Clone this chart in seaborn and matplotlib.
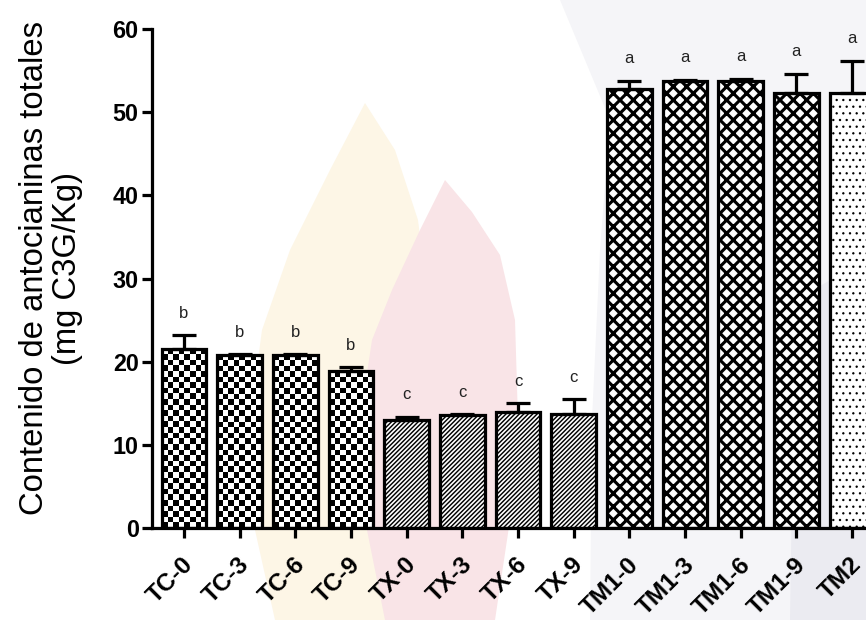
import numpy as np
import pandas as pd
import matplotlib
matplotlib.use("Agg")
import matplotlib.pyplot as plt
import matplotlib.transforms as mtransforms
import seaborn as sns
from matplotlib.patches import Polygon

categories = ["TC-0", "TC-3", "TC-6", "TC-9", "TX-0", "TX-3", "TX-6", "TX-9",
              "TM1-0", "TM1-3", "TM1-6", "TM1-9", "TM2"]
means = [21.5, 20.8, 20.8, 18.9, 13.0, 13.6, 13.9, 13.7, 52.8, 53.8, 53.7, 52.3, 52.3]
sd = [1.7, 0.1, 0.1, 0.4, 0.4, 0.1, 1.1, 1.8, 1.0, 0.1, 0.3, 2.3, 3.9]
letters = ["b", "b", "b", "b", "c", "c", "c", "c", "a", "a", "a", "a", "a"]
groups = ["TC"] * 4 + ["TX"] * 4 + ["TM1"] * 4 + ["TM2"]
hatches = {"TC": None, "TX": "//////", "TM1": "xx", "TM2": ".."}
hatch_lw = {"TX": 1.3, "TM1": 2.8, "TM2": 0.9}

DPI = 80
sns.set_style("ticks")
plt.rcParams["font.family"] = ["Liberation Sans", "DejaVu Sans"]
plt.rcParams["hatch.linewidth"] = 1.5
plt.rcParams["hatch.color"] = "black"
plt.rcParams["text.color"] = "black"
plt.rcParams["xtick.color"] = "black"
plt.rcParams["ytick.color"] = "black"
plt.rcParams["axes.labelcolor"] = "black"

df = pd.DataFrame({"cat": categories, "val": means, "grp": groups})

W, H = 866, 620
fig = plt.figure(figsize=(W / DPI, H / DPI), dpi=DPI)
fig.patch.set_facecolor("white")

# faint watermark shapes (background)
def fpoly(pts, color, z=-5):
    pts = [(x / W, 1 - y / H) for x, y in pts]
    p = Polygon(pts, closed=True, transform=fig.transFigure, facecolor=color,
                edgecolor="none", zorder=z)
    fig.patches.append(p)

fpoly([(560, 0), (866, 0), (866, 620), (590, 620), (592, 420), (600, 250),
       (610, 120)], "#f5f5f8", -6)
fpoly([(795, 300), (866, 260), (866, 620), (790, 620)], "#ebebf1", -5.5)
fpoly([(365, 103), (395, 150), (418, 220), (428, 300), (425, 400), (410, 530),
       (395, 620), (275, 620), (255, 530), (250, 420), (262, 330), (290, 250),
       (330, 170)], "#fdf6e6", -5)
fpoly([(445, 180), (472, 212), (500, 255), (515, 320), (518, 420), (510, 520),
       (495, 620), (385, 620), (365, 520), (360, 420), (372, 340), (392, 290),
       (420, 230)], "#f9e4e7", -4.5)

ax = fig.add_axes([152 / W, (H - 528) / H, (W - 152) / W, (528 - 29) / H])
ax.set_facecolor("none")

sns.barplot(data=df, x="cat", y="val", order=categories, color="white",
            errorbar=None, width=0.8, edgecolor="black", linewidth=2.9,
            saturation=1, ax=ax)

bars = list(ax.patches)
for p, g in zip(bars, groups):
    p.set_zorder(2)
    if g == "TC":
        p.set_facecolor((1, 1, 1, 0))
    else:
        p.set_facecolor("white")
        p.set_hatch(hatches[g])
        if hasattr(p, "set_hatch_linewidth"):
            p.set_hatch_linewidth(hatch_lw[g])

xpos = np.arange(len(categories))
ax.errorbar(xpos, means, yerr=[np.zeros(len(sd)), sd], fmt="none",
            ecolor="black", elinewidth=2.9, capsize=11, capthick=2.9, zorder=3)

ax.set_xlim(-0.575, 12.25)
ax.set_ylim(0, 60)

# checkerboard fill for TC bars
fig.canvas.draw()
for p, g in zip(bars, groups):
    if g != "TC":
        continue
    x0, y0 = p.get_x(), p.get_y()
    w, h = p.get_width(), p.get_height()
    (px0, py0) = ax.transData.transform((x0, y0))
    (px1, py1) = ax.transData.transform((x0 + w, y0 + h))
    cell = 5.6
    nc = max(1, int(round((px1 - px0) / cell)))
    nr = max(1, int(round((py1 - py0) / cell)))
    board = (np.add.outer(np.arange(nr), np.arange(nc)) % 2).astype(float)
    im = ax.imshow(board, cmap="gray", vmin=0, vmax=1, interpolation="nearest",
                   extent=(x0, x0 + w, y0, y0 + nr * cell * h / (py1 - py0)),
                   origin="lower", aspect="auto", zorder=1.5)
    im.set_clip_path(p)

ax.set_xlim(-0.575, 12.25)
ax.set_ylim(0, 60)

for x, m, s, l in zip(xpos, means, sd, letters):
    ax.text(x, m + s + 2.1, l, ha="center", va="baseline", fontsize=15,
            color="#222222")

ax.set_yticks([0, 10, 20, 30, 40, 50, 60])
ax.set_xticks(xpos)
ax.set_xticklabels(categories, rotation=45, ha="right", va="center",
                   rotation_mode="anchor", fontsize=22, fontweight="bold")
for t in ax.get_yticklabels():
    t.set_fontsize(21)
    t.set_fontweight("bold")
ax.tick_params(axis="both", direction="out", length=9, width=2.9, color="black",
               pad=3)
ax.tick_params(axis="x", pad=21)
ax.set_xlabel("")
ax.set_ylabel("Contenido de antocianinas totales\n(mg C3G/Kg)", fontsize=29.5,
              linespacing=1.1)
ax.yaxis.set_label_coords(-0.096, 0.521)
sns.despine(ax=ax)
for s in ["left", "bottom"]:
    ax.spines[s].set_linewidth(2.9)
    ax.spines[s].set_color("black")

fig.canvas.draw()
shift = mtransforms.ScaledTranslation(6 / DPI, 0, fig.dpi_scale_trans)
for tick in ax.xaxis.get_major_ticks():
    tick.label1.set_transform(tick.label1.get_transform() + shift)

fig.savefig("out.png", dpi=DPI)
